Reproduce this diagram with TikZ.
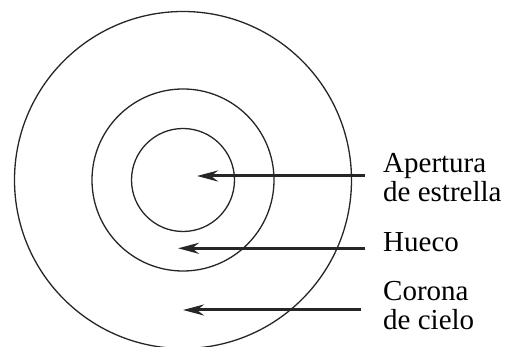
\documentclass[tikz,border=0pt]{standalone}
\usepackage{fontspec}
\setmainfont{Liberation Serif}
\usetikzlibrary{arrows.meta}
\begin{document}
\begin{tikzpicture}[x=1pt,y=-1pt,
  ring/.style={draw=black!85,line width=1.3pt},
  pointer/.style={draw=black!85,line width=3pt,-{Stealth[length=21pt,width=11pt,inset=7pt]}},
  lbl/.style={inner sep=0pt,anchor=base west,align=left,font=\fontsize{29}{29}\selectfont}]
\useasboundingbox (0,0) rectangle (507,347);
\coordinate (c) at (183,180);
\draw[ring] (c) circle[radius=168.5];
\draw[ring] (c) circle[radius=91];
\draw[ring] (c) circle[radius=51.5];
\node[lbl] (apertura) at (383,201.5) {Apertura\\de estrella};
\node[lbl] (hueco) at (383,252) {Hueco};
\node[lbl] (corona) at (383,330) {Corona\\de cielo};
\coordinate (s1) at (365,176);
\coordinate (t1) at (197,176);
\coordinate (s2) at (365,248.3);
\coordinate (t2) at (178,248.3);
\coordinate (s3) at (361,310);
\coordinate (t3) at (183,310);
\draw[pointer] (s1) -- (t1);
\draw[pointer] (s2) -- (t2);
\draw[pointer] (s3) -- (t3);
\end{tikzpicture}
\end{document}
